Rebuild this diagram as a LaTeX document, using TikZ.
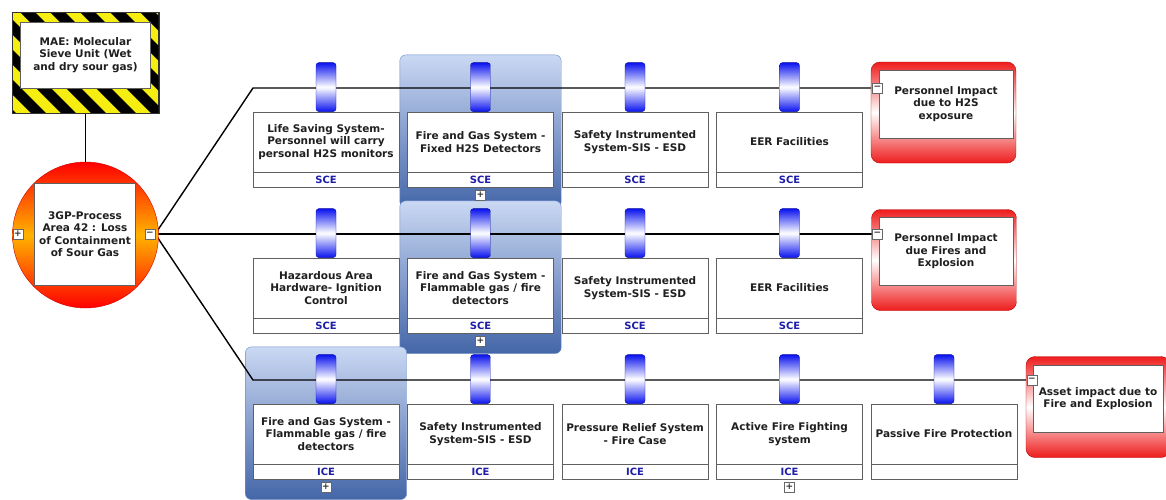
\documentclass[tikz,border=0pt]{standalone}
\usepackage{fontspec}
\setmainfont{DejaVu Sans}
\usepackage{tikz}
\usetikzlibrary{positioning,fit}
\definecolor{barblue}{HTML}{0A12EE}
\definecolor{labblue}{HTML}{1E1EA8}
\definecolor{hltop}{HTML}{CAD8F3}
\definecolor{hlbot}{HTML}{4466A8}
\definecolor{hlline}{HTML}{6F8FCB}
\definecolor{hazyel}{HTML}{F5EE10}
\definecolor{conred}{HTML}{EE1C1C}
\pgfdeclarelayer{hl}
\pgfdeclarelayer{lines}
\pgfsetlayers{hl,lines,main}

\begin{document}
\begin{tikzpicture}[x=1pt, y=-1pt,
    txt/.style={font=\bfseries\fontsize{10.5}{12.5}\selectfont, text=black!88, align=center},
    mainbox/.style={txt, rectangle, draw=gray!75!black, fill=white,
                    minimum width=146pt, minimum height=60pt, inner sep=1pt},
    labbox/.style={rectangle, draw=gray!75!black, fill=white, minimum width=146pt,
                   minimum height=15pt, inner sep=0pt,
                   font=\bfseries\fontsize{10}{10}\selectfont, text=labblue},
    pill/.style={rectangle, draw=barblue!70!black, rounded corners=3pt, minimum width=20pt,
                 minimum height=49pt, inner sep=0pt,
                 top color=barblue, bottom color=barblue, middle color=white},
    tog/.style={rectangle, draw=gray!80!black, fill=white, minimum size=10pt, inner sep=0pt,
                font=\bfseries\fontsize{9}{9}\selectfont, text=gray!40!black},
    hilite/.style={rectangle, draw=hlline, rounded corners=6pt,
                   top color=hltop, bottom color=hlbot, inner sep=7.5pt},
    conseq/.style={rectangle, draw=red!70!black, rounded corners=9pt, minimum width=145pt,
                   minimum height=101pt, top color=conred, bottom color=conred, middle color=white},
    conbox/.style={txt, rectangle, draw=gray!75!black, fill=white,
                   minimum width=134pt, minimum height=68pt, inner sep=1pt},
    link/.style={draw=black, line width=1.4pt}
]
\useasboundingbox (0,0) rectangle (1166,499);

% Major accident event (hazard frame)
\node[rectangle, draw=black!80, fill=hazyel, minimum width=146pt, minimum height=101pt] (mae) at (85.5,62.5) {};
\begin{scope}
  \clip (mae.south west) rectangle (mae.north east);
  \foreach \s in {-100,-70,...,160}
    \fill[black] (\s,12) -- ++(15,0) -- ++(101,101) -- ++(-15,0) -- cycle;
\end{scope}
\draw[black!80] (mae.south west) rectangle (mae.north east);
\node[conbox, minimum width=130pt, minimum height=66pt] (maebox) at (85.5,55) {MAE: Molecular\\Sieve Unit (Wet\\and dry sour gas)};

% Top event
\node[circle, draw=red!80!black, minimum size=146pt, top color=red, bottom color=red,
      middle color=orange!60!yellow] (cause) at (85.5,235) {};
\node[conbox, minimum width=101pt, minimum height=102pt] (causebox) at (85,234) {3GP-Process\\Area 42 : Loss\\of Containment\\of Sour Gas};
\node[tog] (cplus) at (18,234) {+};
\node[tog] (cminus) at (150,234) {\symbol{"2212}};

% Barriers
\foreach \n/\x/\r/\txt/\lab in {
    11/326/88/{Life Saving System-\\Personnel will carry\\personal H2S monitors}/SCE,
    12/480.5/88/{Fire and Gas System -\\Fixed H2S Detectors}/SCE,
    13/635/88/{Safety Instrumented\\System-SIS - ESD}/SCE,
    14/789.5/88/{EER Facilities}/SCE,
    21/326/234/{Hazardous Area\\Hardware- Ignition\\Control}/SCE,
    22/480.5/234/{Fire and Gas System -\\Flammable gas / fire\\detectors}/SCE,
    23/635/234/{Safety Instrumented\\System-SIS - ESD}/SCE,
    24/789.5/234/{EER Facilities}/SCE,
    31/326/380/{Fire and Gas System -\\Flammable gas / fire\\detectors}/ICE,
    32/480.5/380/{Safety Instrumented\\System-SIS - ESD}/ICE,
    33/635/380/{Pressure Relief System\\- Fire Case}/ICE,
    34/789.5/380/{Active Fire Fighting\\system}/ICE,
    35/944/380/{Passive Fire Protection}/{}}
{
  \node[mainbox] (b\n) at (\x,\r+54) {\txt};
  \node[labbox, below=0pt of b\n] (l\n) {\lab};
  \node[pill, above=0pt of b\n] (p\n) {};
}
\node[tog, below=2pt of l12] (x12) {+};
\node[tog, below=2pt of l22] (x22) {+};
\node[tog, below=2pt of l31] (x31) {+};
\node[tog, below=2pt of l34] (x34) {+};

% Consequences
\node[conseq] (q1) at (943.5,112.5) {};
\node[conbox] (q1box) at (946,104) {Personnel Impact\\due to H2S\\exposure};
\node[tog] (q1min) at (877.5,88) {\symbol{"2212}};
\node[conseq] (q2) at (944,260) {};
\node[conbox] (q2box) at (946,251.5) {Personnel Impact\\due Fires and\\Explosion};
\node[tog] (q2min) at (877.5,234) {\symbol{"2212}};
\node[conseq, minimum width=144pt] (q3) at (1098,407) {};
\node[conbox, minimum width=130pt, minimum height=67pt] (q3box) at (1098,398.5) {Asset impact due to\\Fire and Explosion};
\node[tog] (q3min) at (1032,380) {\symbol{"2212}};

% Expanded barriers
\begin{pgfonlayer}{hl}
  \node[hilite, fit=(p12)(b12)(x12)] (h12) {};
  \node[hilite, fit=(p22)(b22)(x22)] (h22) {};
  \node[hilite, fit=(p31)(b31)(x31)] (h31) {};
\end{pgfonlayer}

% Connectors
\coordinate (k1) at (253,88);
\coordinate (k3) at (253,380);
\begin{pgfonlayer}{lines}
  \draw[link] (mae) -- (cause);
  \draw[link] (cminus.east) -- (k1) -- (q1min.west);
  \draw[link] (cminus.east) -- (q2min.west);
  \draw[link] (cminus.east) -- (k3) -- (q3min.west);
\end{pgfonlayer}
\end{tikzpicture}
\end{document}
